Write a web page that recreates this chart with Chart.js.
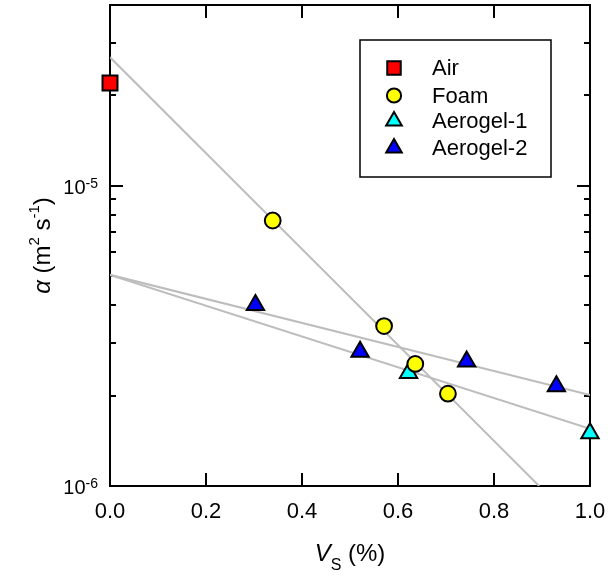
<!DOCTYPE html>
<html>
<head>
<meta charset="utf-8">
<script src="https://cdn.jsdelivr.net/npm/chart.js@4.4.1/dist/chart.umd.min.js"></script>
<style>
  body { margin: 0; background: #fff; }
  #wrap { width: 608px; height: 576px; }
</style>
</head>
<body>
<div id="wrap"><canvas id="alphaChart"></canvas></div>
<script>
// measured points: x = V_S (%), y = alpha (m2 s-1)
const airX = [0.0];
const airY = [2.2e-5];
const foamX = [0.339, 0.571, 0.636, 0.704];
const foamY = [7.66e-6, 3.41e-6, 2.55e-6, 2.03e-6];
const aero1X = [0.622, 1.0];
const aero1Y = [2.38e-6, 1.50e-6];
const aero2X = [0.303, 0.521, 0.743, 0.930];
const aero2Y = [4.01e-6, 2.80e-6, 2.60e-6, 2.15e-6];

// fitted trend lines (end points only)
const fitFoamX = [0.0, 0.894];
const fitFoamY = [2.68e-5, 1.0e-6];
const fitAero2X = [0.0, 1.0];
const fitAero2Y = [5.05e-6, 2.01e-6];
const fitAero1X = [0.0, 1.0];
const fitAero1Y = [5.05e-6, 1.55e-6];

// axes
const xTicks = [0.0, 0.2, 0.4, 0.6, 0.8, 1.0];
const xTickLabels = ['0.0', '0.2', '0.4', '0.6', '0.8', '1.0'];
const yMajor = [1e-6, 1e-5];
const yMajorExp = ['-6', '-5'];
const yMinor = [2e-6, 3e-6, 4e-6, 5e-6, 6e-6, 7e-6, 8e-6, 9e-6, 2e-5, 3e-5];

const legendNames = ['Air', 'Foam', 'Aerogel-1', 'Aerogel-2'];

const FONT = 'Arial, "Liberation Sans", sans-serif';
const fitColor = '#bdbdbd';

function pts(xs, ys) {
    return xs.map((x, i) => ({ x: x, y: ys[i] }));
}

function marker(label, xs, ys, color, style, r) {
    return {
        label: label, data: pts(xs, ys), showLine: false,
        pointStyle: style, pointRadius: r, pointBorderWidth: 2,
        pointBackgroundColor: color, pointBorderColor: '#000',
        backgroundColor: color, borderColor: '#000',
        clip: false, order: 1
    };
}

function fit(xs, ys) {
    return {
        label: 'fit', data: pts(xs, ys), showLine: true, pointRadius: 0,
        borderColor: fitColor, borderWidth: 2, fill: false, order: 10
    };
}

// draw text made of pieces (italic, super/subscripts)
function drawRuns(ctx, runs, x, y) {
    for (const r of runs) {
        ctx.font = r[1] + ' ' + FONT;
        ctx.fillText(r[0], x, y + (r[2] || 0));
        x += ctx.measureText(r[0]).width;
    }
}
function runsWidth(ctx, runs) {
    let w = 0;
    for (const r of runs) { ctx.font = r[1] + ' ' + FONT; w += ctx.measureText(r[0]).width; }
    return w;
}

const framePlugin = {
    id: 'frame',
    beforeDatasetsDraw(chart) {
        const ctx = chart.ctx, a = chart.chartArea;
        const xs = chart.scales.x, ys = chart.scales.y;
        ctx.save();
        ctx.strokeStyle = '#000';
        ctx.lineWidth = 2;
        ctx.strokeRect(a.left, a.top, a.right - a.left, a.bottom - a.top);
        ctx.beginPath();
        xTicks.forEach(v => {
            const px = Math.round(xs.getPixelForValue(v));
            ctx.moveTo(px, a.bottom); ctx.lineTo(px, a.bottom - 13);
            ctx.moveTo(px, a.top); ctx.lineTo(px, a.top + 13);
        });
        yMajor.forEach(v => {
            const py = Math.round(ys.getPixelForValue(v));
            ctx.moveTo(a.left, py); ctx.lineTo(a.left + 13, py);
            ctx.moveTo(a.right, py); ctx.lineTo(a.right - 13, py);
        });
        yMinor.forEach(v => {
            const py = Math.round(ys.getPixelForValue(v));
            ctx.moveTo(a.left, py); ctx.lineTo(a.left + 6, py);
            ctx.moveTo(a.right, py); ctx.lineTo(a.right - 6, py);
        });
        ctx.stroke();
        ctx.restore();
    },
    afterDraw(chart) {
        const ctx = chart.ctx, a = chart.chartArea;
        const xs = chart.scales.x, ys = chart.scales.y;
        ctx.save();
        ctx.fillStyle = '#000';
        ctx.textBaseline = 'alphabetic';

        // x tick labels
        ctx.textAlign = 'center';
        ctx.font = '22px ' + FONT;
        xTicks.forEach((v, i) => {
            ctx.fillText(xTickLabels[i], xs.getPixelForValue(v), a.bottom + 32);
        });

        // y tick labels 10^n
        ctx.textAlign = 'left';
        yMajor.forEach((v, i) => {
            const py = ys.getPixelForValue(v);
            const runs = [['10', '20px'], [yMajorExp[i], '14px', -6]];
            const w = runsWidth(ctx, runs);
            drawRuns(ctx, runs, a.left - 12 - w, py + 8);
        });

        // x title: V_S (%)
        const xt = [['V', 'italic 24px'], ['S', '16px', 9], [' (%)', '24px']];
        const cx = (a.left + a.right) / 2;
        drawRuns(ctx, xt, cx - runsWidth(ctx, xt) / 2, 561);

        // y title: alpha (m^2 s^-1)
        const yt = [['\u03b1', 'italic 24px'], [' (m', '24px'], ['2', '15px', -11],
                    [' s', '24px'], ['-1', '15px', -11], [')', '24px']];
        ctx.translate(50, (a.top + a.bottom) / 2);
        ctx.rotate(-Math.PI / 2);
        drawRuns(ctx, yt, -runsWidth(ctx, yt) / 2, 0);
        ctx.setTransform(1, 0, 0, 1, 0, 0);

        // legend box
        const lx = a.left + 250, ly = a.top + 35, lw = 191, lh = 137;
        ctx.lineWidth = 1.5;
        ctx.strokeStyle = '#000';
        ctx.strokeRect(lx, ly, lw, lh);
        ctx.font = '22px ' + FONT;
        ctx.textBaseline = 'middle';
        const rowY = [28, 55.5, 81, 108];
        legendNames.forEach((name, i) => {
            const ds = chart.data.datasets[i];
            const yy = ly + rowY[i];
            ctx.fillStyle = ds.pointBackgroundColor;
            ctx.strokeStyle = '#000';
            ctx.lineWidth = 2;
            Chart.helpers.drawPoint(ctx, {
                pointStyle: ds.pointStyle, radius: ds.pointRadius * 0.9,
                borderWidth: 2, rotation: 0
            }, lx + 34, yy);
            ctx.fillStyle = '#000';
            ctx.fillText(name, lx + 72, yy + 1);
        });
        ctx.restore();
    }
};

const ctx = document.getElementById('alphaChart').getContext('2d');
const alphaChart = new Chart(ctx, {
    type: 'scatter',
    data: {
        datasets: [
            marker('Air', airX, airY, '#ff0000', 'rect', 10.6),
            marker('Foam', foamX, foamY, '#ffff00', 'circle', 7.9),
            marker('Aerogel-1', aero1X, aero1Y, '#00ffff', 'triangle', 10),
            marker('Aerogel-2', aero2X, aero2Y, '#0000ff', 'triangle', 10),
            fit(fitFoamX, fitFoamY),
            fit(fitAero2X, fitAero2Y),
            fit(fitAero1X, fitAero1Y)
        ]
    },
    options: {
        responsive: true,
        maintainAspectRatio: false,
        animation: false,
        layout: { autoPadding: false, padding: { left: 110, right: 18, top: 5, bottom: 90 } },
        scales: {
            x: { type: 'linear', min: 0, max: 1, display: false },
            y: { type: 'logarithmic', min: 1e-6, max: 4e-5, display: false }
        },
        plugins: { legend: { display: false }, tooltip: { enabled: false } }
    },
    plugins: [framePlugin]
});
</script>
</body>
</html>
